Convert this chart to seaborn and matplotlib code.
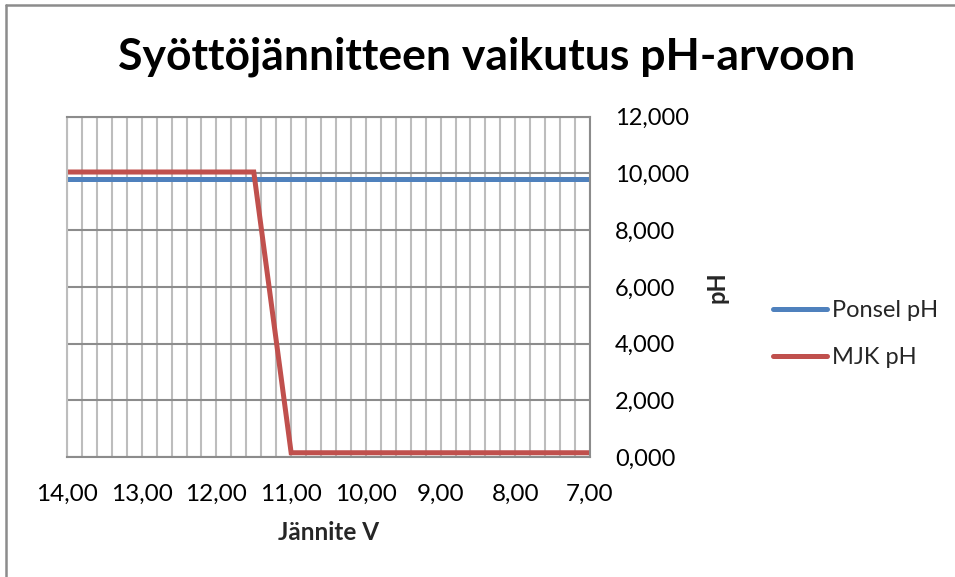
import matplotlib
matplotlib.use("Agg")
import matplotlib.pyplot as plt
import seaborn as sns
import pandas as pd
from matplotlib.ticker import MultipleLocator, FuncFormatter
from matplotlib.lines import Line2D

# ---- data ----
voltage = [14.0, 13.5, 13.0, 12.5, 12.0, 11.5, 11.0, 10.5, 10.0, 9.5, 9.0, 8.5, 8.0, 7.5, 7.0]
ponsel_ph = [9.80, 9.80, 9.80, 9.80, 9.80, 9.80, 9.80, 9.80, 9.80, 9.80, 9.80, 9.80, 9.80, 9.80, 9.80]
mjk_ph = [10.05, 10.05, 10.05, 10.05, 10.05, 10.05, 0.15, 0.15, 0.15, 0.15, 0.15, 0.15, 0.15, 0.15, 0.15]
series_names = ["Ponsel pH", "MJK pH"]
series_colors = ["#4F81BD", "#C0504D"]
title = "Syöttöjännitteen vaikutus pH-arvoon"
x_label = "Jännite V"
y_label = "pH"

df = pd.concat([
    pd.DataFrame({"V": voltage, "pH": ponsel_ph, "series": series_names[0]}),
    pd.DataFrame({"V": voltage, "pH": mjk_ph, "series": series_names[1]}),
])

sns.set_theme(style="white")
plt.rcParams["font.family"] = ["Lato", "DejaVu Sans"]

fig = plt.figure(figsize=(9.55, 5.77), dpi=100)
ax = fig.add_axes([67 / 955, 1 - 457 / 577, (590 - 67) / 955, (457 - 116.7) / 577])

sns.lineplot(data=df, x="V", y="pH", hue="series", palette=series_colors,
             linewidth=3.6, ax=ax, legend=True, sort=False,
             solid_capstyle="round", solid_joinstyle="miter")

ax.set_xlim(14, 7)
ax.set_ylim(0, 12)
ax.xaxis.set_major_locator(MultipleLocator(1))
ax.xaxis.set_minor_locator(MultipleLocator(0.2))
ax.yaxis.set_major_locator(MultipleLocator(2))
ax.xaxis.set_major_formatter(FuncFormatter(lambda v, p: f"{v:.2f}".replace(".", ",")))
ax.yaxis.set_major_formatter(FuncFormatter(lambda v, p: f"{v:.3f}".replace(".", ",")))

ax.yaxis.tick_right()
ax.yaxis.set_label_position("right")
ax.tick_params(axis="both", which="both", length=0, colors="#000000")
ax.tick_params(axis="y", labelsize=17, pad=18)
ax.tick_params(axis="x", labelsize=17.5, pad=19)
for lab in ax.get_yticklabels():
    lab.set_horizontalalignment("left")

ax.grid(True, which="both", axis="x", color="#bdbdbd", linewidth=1.5)
ax.grid(True, which="major", axis="y", color="#8c8c8c", linewidth=1.5)
ax.set_axisbelow(True)
for s in ax.spines.values():
    s.set_visible(True)
    s.set_color("#8c8c8c")
    s.set_linewidth(1.5)
ax.spines["left"].set_color("#bdbdbd")

ax.set_xlabel(x_label, fontsize=17.5, fontweight="bold", labelpad=12)
ax.set_ylabel(y_label, fontsize=17, fontweight="bold", labelpad=12)

leg = ax.legend(loc="center left", bbox_to_anchor=(773 / 955, 1 - 334 / 577),
                bbox_transform=fig.transFigure, frameon=False, fontsize=17,
                handlelength=2.3, handletextpad=0.2, labelspacing=1.1,
                borderpad=0, borderaxespad=0)
for h in leg.legend_handles:
    h.set_linewidth(3.6)

fig.text(0.51, 1 - 57 / 577, title, ha="center", va="center",
         fontsize=32, fontweight="bold", color="#000000")

# chart-area border (top and left visible)
fig.add_artist(Line2D([6 / 955, 1.0], [1 - 5 / 577, 1 - 5 / 577], transform=fig.transFigure,
                      color="#8c8c8c", linewidth=1.8))
fig.add_artist(Line2D([6 / 955, 6 / 955], [0, 1 - 5 / 577], transform=fig.transFigure,
                      color="#8c8c8c", linewidth=1.8))

fig.savefig("out.png", dpi=100, facecolor="white")
